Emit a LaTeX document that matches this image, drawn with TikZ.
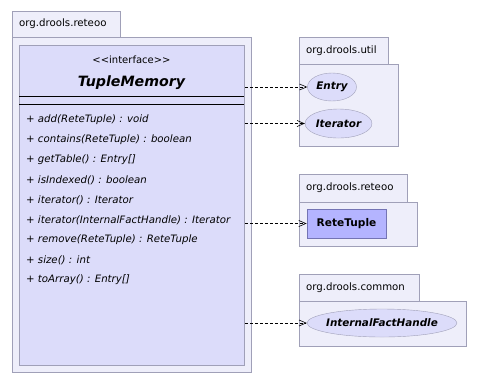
\documentclass[tikz,border=0pt]{standalone}
\usepackage{fontspec}
\setmainfont{DejaVu Sans}
\usetikzlibrary{arrows.meta,positioning,shapes.geometric}
\definecolor{PkgFill}{HTML}{EEEEFA}
\definecolor{PkgLine}{HTML}{A0A0B8}
\definecolor{ClsFill}{HTML}{DCDCFA}
\definecolor{RefFill}{HTML}{B4B4FF}
\definecolor{RefLine}{HTML}{7474B4}
% package: name, tab corners, body corner, label
\newcommand{\Pkg}[8]{%
  \draw[pkg] (#2,#3) rectangle (#4,#5);%
  \draw[pkg] (#2,#5) rectangle (#6,#7);%
  \node[pkglabel] (#1) at (#2+6,{(#3+#5)/2}) {#8};%
}

\begin{document}
\begin{tikzpicture}[x=1pt,y=-1pt,
  pkg/.style={draw=PkgLine,fill=PkgFill,line width=0.8pt},
  pkglabel/.style={anchor=west,inner sep=1pt,font=\fontsize{10.2}{12}\selectfont},
  cls/.style={draw=PkgLine,fill=ClsFill,line width=0.8pt,anchor=north west,inner sep=0pt},
  op/.style={anchor=west,inner sep=0pt,font=\fontsize{10.2}{12}\selectfont\itshape},
  iface/.style={ellipse,draw=PkgLine,fill=ClsFill,inner sep=1pt,
    font=\fontsize{10.4}{12}\selectfont\bfseries\itshape},
  ref/.style={rectangle,draw=RefLine,fill=RefFill,line width=0.8pt,
    font=\fontsize{10.6}{12}\selectfont\bfseries},
  dep/.style={densely dashed,line width=0.6pt,-{Straight Barb[length=7pt,width=6pt]}}]
\useasboundingbox (0,0) rectangle (479,384);

\Pkg{pkgmem}{12}{11}{120.5}{37}{251}{372}{org.drools.reteoo}
\Pkg{pkgutil}{299}{37}{388}{64}{398}{146}{org.drools.util}
\Pkg{pkgrete}{299}{174}{407}{202}{417}{246}{org.drools.reteoo}
\Pkg{pkgcommon}{299}{274}{419}{301}{466}{346}{org.drools.common}

% the interface box
\node[cls,minimum width=225pt,minimum height=320pt] (mem) at (19,45) {};
\node[font=\fontsize{10}{12}\selectfont] (stereo) at (131.5,60) {<{}<interface>{}>};
\node[font=\fontsize{14.2}{16}\selectfont\bfseries\itshape] (title) at (131.5,83) {TupleMemory};
\draw[line width=0.8pt] (19,96) -- (244,96);
\draw[line width=0.8pt] (19,104) -- (244,104);
\foreach \m [count=\i] in {{add(ReteTuple) : void},{contains(ReteTuple) : boolean},
    {getTable() : Entry[]},{isIndexed() : boolean},{iterator() : Iterator},
    {iterator(InternalFactHandle) : Iterator},{remove(ReteTuple) : ReteTuple},
    {size() : int},{toArray() : Entry[]}}
  \node[op] (op\i) at (26,100+20*\i) {+ \m};

% referenced types
\node[iface,minimum width=49pt,minimum height=28pt] (entry) at (332,87) {Entry};
\node[iface,minimum width=62pt,minimum height=29pt] (iter) at (338.5,123.5) {Iterator};
\node[ref,minimum width=79pt,minimum height=29pt] (tuple) at (346.5,223.5) {ReteTuple};
\node[iface,inner xsep=-5pt,minimum width=150pt,minimum height=28pt] (handle) at (382,323) {InternalFactHandle};

\draw[dep] (mem.east |- entry.west) -- (entry.west);
\draw[dep] (mem.east |- iter.west) -- (iter.west);
\draw[dep] (mem.east |- tuple.west) -- (tuple.west);
\draw[dep] (mem.east |- handle.west) -- (handle.west);
\end{tikzpicture}
\end{document}
